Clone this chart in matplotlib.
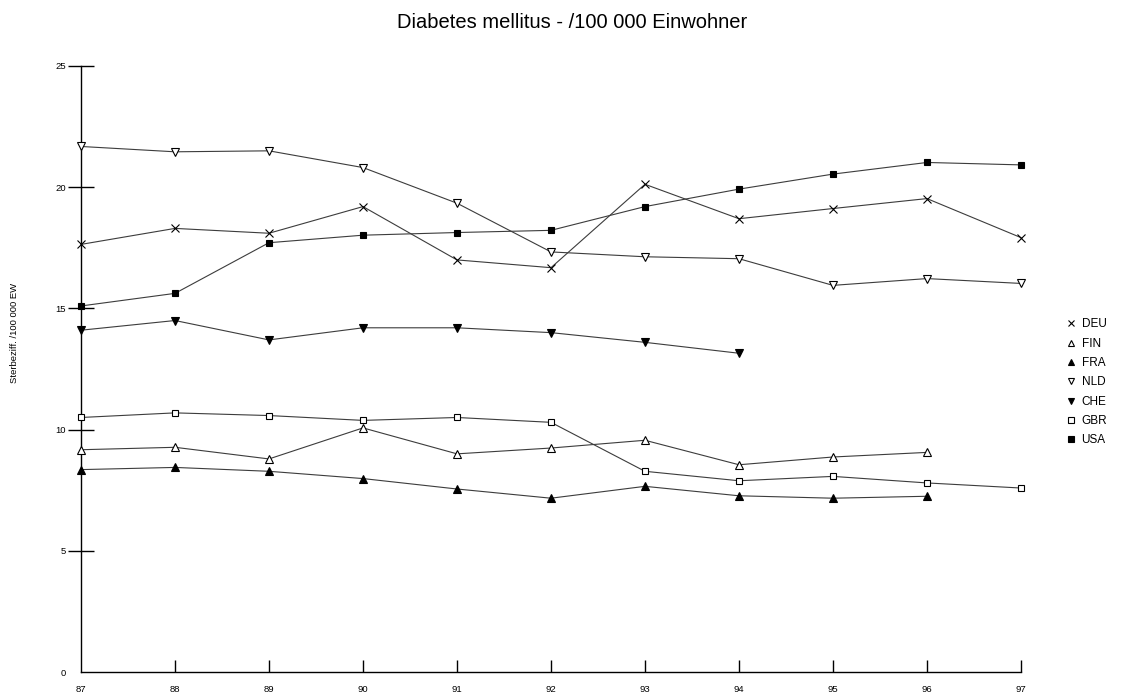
import numpy as np
import matplotlib
matplotlib.use("Agg")
import matplotlib.pyplot as plt
from matplotlib.lines import Line2D

plt.rcParams['font.family'] = ['Liberation Sans', 'DejaVu Sans']

years = [87, 88, 89, 90, 91, 92, 93, 94, 95, 96, 97]
year_labels = ["87", "88", "89", "90", "91", "92", "93", "94", "95", "96", "97"]

deu = [17.64, 18.3, 18.1, 19.2, 17.0, 16.68, 20.12, 18.7, 19.12, 19.53, 17.92]
fin = [9.17, 9.27, 8.79, 10.07, 9.0, 9.24, 9.56, 8.55, 8.87, 9.06]
fra = [8.35, 8.44, 8.28, 7.98, 7.55, 7.17, 7.66, 7.27, 7.17, 7.25]
nld = [21.68, 21.46, 21.5, 20.81, 19.34, 17.33, 17.13, 17.05, 15.95, 16.23, 16.03]
che = [14.1, 14.5, 13.7, 14.2, 14.2, 14.0, 13.6, 13.15]
gbr = [10.5, 10.69, 10.58, 10.38, 10.5, 10.3, 8.28, 7.89, 8.07, 7.8, 7.59]
usa = [15.1, 15.62, 17.71, 18.02, 18.13, 18.22, 19.2, 19.92, 20.54, 21.02, 20.92]

series = [
    ("DEU", deu, "x", "none"),
    ("FIN", fin, "^", "white"),
    ("FRA", fra, "^", "black"),
    ("NLD", nld, "v", "white"),
    ("CHE", che, "v", "black"),
    ("GBR", gbr, "s", "white"),
    ("USA", usa, "s", "black"),
]

fig = plt.figure(figsize=(11.28, 6.99), dpi=100)
ax = fig.add_axes([0.0718, 0.0386, 0.8333, 0.867])

for name, vals, mk, fc in series:
    ax.plot(years[:len(vals)], vals, color="#3c3c3c", lw=0.8,
            marker=mk, ms=5 if mk == "s" else 5.5, mfc=fc, mec="black", mew=0.8,
            zorder=3, clip_on=False)

ax.set_xlim(87, 97)
ax.set_ylim(0, 25)
ax.set_xticks(years)
ax.set_xticklabels(year_labels)
ax.set_yticks([0, 5, 10, 15, 20, 25])
ax.set_yticklabels(["0", "5", "10", "15", "20", "25"])
for s in ["top", "right"]:
    ax.spines[s].set_visible(False)
for s in ["left", "bottom"]:
    ax.spines[s].set_linewidth(1.0)
ax.tick_params(axis="x", direction="in", length=8.6, width=1.0, pad=9, labelsize=6.8)
ax.tick_params(axis="y", direction="inout", length=18.7, width=1.0, pad=1.5, labelsize=6.8)
# 0 tick has no visible mark in the original
ax.yaxis.get_major_ticks()[0].tick1line.set_visible(False)
ax.xaxis.get_major_ticks()[0].tick1line.set_visible(False)

ax.set_ylabel("Sterbeziff. /100 000 EW", fontsize=6.8)
ax.yaxis.set_label_coords(-0.066, 0.56)
fig.suptitle("Diabetes mellitus - /100 000 Einwohner", fontsize=14.5, x=0.507, y=0.982)

handles = [Line2D([], [], ls="none", marker=mk, ms=5, mfc=fc, mec="black", mew=0.8)
           for name, vals, mk, fc in series]
fig.legend(handles, [s[0] for s in series], loc="upper left",
           bbox_to_anchor=(0.94, 0.553), frameon=False, fontsize=8.5,
           handlelength=0.8, handletextpad=0.5, labelspacing=0.62, borderpad=0)

fig.savefig("out.png", dpi=100)
